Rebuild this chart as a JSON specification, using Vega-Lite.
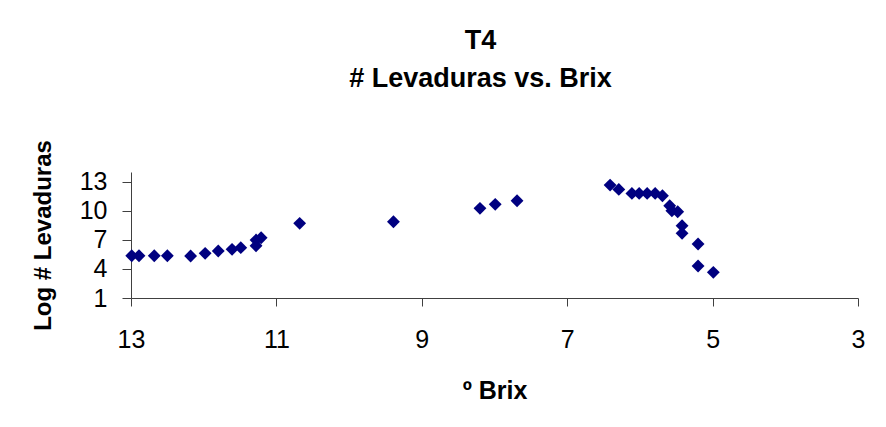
{
  "$schema": "https://vega.github.io/schema/vega-lite/v6.json",
  "width": 727,
  "height": 126,
  "autosize": {"type": "none"},
  "padding": {"left": 131, "top": 172, "right": 28, "bottom": 129},
  "background": "white",
  "config": {
    "view": {"stroke": null},
    "font": "Liberation Sans"
  },
  "title": {
    "text": ["T4", "# Levaduras vs. Brix"],
    "fontSize": 27,
    "font": "Liberation Sans",
    "fontWeight": "bold",
    "color": "black",
    "lineHeight": 38,
    "anchor": "middle",
    "frame": "group",
    "offset": 47,
    "dx": -14
  },
  "data": {
    "values": [
      {"brix": 12.99, "log": 5.36},
      {"brix": 12.89, "log": 5.36},
      {"brix": 12.68, "log": 5.36},
      {"brix": 12.50, "log": 5.36},
      {"brix": 12.18, "log": 5.33},
      {"brix": 11.98, "log": 5.61},
      {"brix": 11.80, "log": 5.85},
      {"brix": 11.61, "log": 6.02},
      {"brix": 11.49, "log": 6.19},
      {"brix": 11.28, "log": 6.39},
      {"brix": 11.28, "log": 6.98},
      {"brix": 11.21, "log": 7.22},
      {"brix": 10.68, "log": 8.70},
      {"brix": 9.39, "log": 8.87},
      {"brix": 8.20, "log": 10.25},
      {"brix": 7.99, "log": 10.66},
      {"brix": 7.69, "log": 11.03},
      {"brix": 6.41, "log": 12.65},
      {"brix": 6.29, "log": 12.20},
      {"brix": 6.11, "log": 11.79},
      {"brix": 6.01, "log": 11.79},
      {"brix": 5.90, "log": 11.79},
      {"brix": 5.79, "log": 11.79},
      {"brix": 5.69, "log": 11.55},
      {"brix": 5.59, "log": 10.52},
      {"brix": 5.56, "log": 10.00},
      {"brix": 5.48, "log": 9.90},
      {"brix": 5.42, "log": 8.45},
      {"brix": 5.42, "log": 7.67},
      {"brix": 5.20, "log": 6.57},
      {"brix": 5.20, "log": 4.30},
      {"brix": 4.99, "log": 3.65}
    ]
  },
  "mark": {"type": "point", "shape": "diamond", "filled": true, "size": 165, "color": "#000080", "opacity": 1},
  "encoding": {
    "x": {
      "field": "brix",
      "type": "quantitative",
      "scale": {"domain": [13, 3], "nice": false, "zero": false},
      "axis": {
        "title": "º Brix",
        "values": [13, 11, 9, 7, 5, 3],
        "grid": false,
        "domainColor": "#404040",
        "tickColor": "#404040",
        "tickSize": 8,
        "labelFontSize": 25,
        "labelColor": "black",
        "labelPadding": 21,
        "labelFlush": false,
        "titleFontSize": 25,
        "titleFontWeight": "bold",
        "titleColor": "black",
        "titlePadding": 26
      }
    },
    "y": {
      "field": "log",
      "type": "quantitative",
      "scale": {"domain": [1, 14], "nice": false, "zero": false},
      "axis": {
        "title": "Log # Levaduras",
        "values": [1, 4, 7, 10, 13],
        "grid": false,
        "domainColor": "#404040",
        "tickColor": "#404040",
        "tickSize": 9,
        "labelFontSize": 25,
        "labelColor": "black",
        "labelPadding": 15,
        "labelFlush": false,
        "titleFontSize": 24,
        "titleFontWeight": "bold",
        "titleColor": "black",
        "titlePadding": 24
      }
    }
  }
}
